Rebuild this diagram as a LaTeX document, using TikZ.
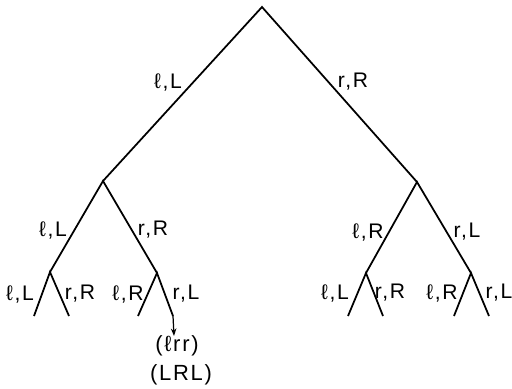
\documentclass[tikz,border=0pt]{standalone}
\usepackage{fontspec}
\setmainfont{Liberation Sans}[LetterSpace=8]
\usetikzlibrary{arrows.meta}

\begin{document}
\begin{tikzpicture}[x=0.02cm, y=-0.02cm, font=\fontsize{12}{14}\selectfont,
	br/.style={line width=1pt},
	lab/.style={inner sep=0pt},
	fl/.style={-{Stealth[length=1.5mm, width=1.1mm]}, line width=0.7pt}]
	\useasboundingbox (0,0) rectangle (512,389);

	% branching points
	\coordinate (r) at (262,7);
	\coordinate (a) at (103,181);
	\coordinate (b) at (417,182);
	\coordinate (aa) at (50,272);
	\coordinate (ab) at (157,273);
	\coordinate (ba) at (366,273);
	\coordinate (bb) at (471,273);
	\coordinate (aaa) at (34,316);
	\coordinate (aab) at (69,316);
	\coordinate (aba) at (138,316);
	\coordinate (abb) at (173,316);
	\coordinate (baa) at (348,316);
	\coordinate (bab) at (383,316);
	\coordinate (bba) at (454,316);
	\coordinate (bbb) at (489,316);

	\draw[br] (a) -- (r) -- (b);
	\draw[br] (aa) -- (a) -- (ab);
	\draw[br] (ba) -- (b) -- (bb);
	\draw[br] (aaa) -- (aa) -- (aab);
	\draw[br] (aba) -- (ab) -- (abb);
	\draw[br] (baa) -- (ba) -- (bab);
	\draw[br] (bba) -- (bb) -- (bbb);

	\node[lab] (la) at (168,82) {ℓ,L};
	\node[lab] (lb) at (353,82) {r,R};
	\node[lab] (laa) at (53,230) {ℓ,L};
	\node[lab] (lab) at (153,230) {r,R};
	\node[lab] (lba) at (368,232) {ℓ,R};
	\node[lab] (lbb) at (467,232) {r,L};
	\node[lab] (laaa) at (20,294) {ℓ,L};
	\node[lab] (laab) at (80,294) {r,R};
	\node[lab] (laba) at (128,294) {ℓ,R};
	\node[lab] (labb) at (186,294) {r,L};
	\node[lab] (lbaa) at (335,293) {ℓ,L};
	\node[lab] (lbab) at (390,293) {r,R};
	\node[lab] (lbba) at (442,293) {ℓ,R};
	\node[lab] (lbbb) at (499,293) {r,L};

	\coordinate (tip) at (174,336);
	\draw[fl] (abb) -- (tip);
	\node[lab, font=\fontsize{12.5}{14}\selectfont] (path) at (177,346) {(ℓrr)};
	\node[lab, font=\fontsize{12.5}{14}\selectfont] (seq) at (181,375) {(LRL)};
\end{tikzpicture}
\end{document}
